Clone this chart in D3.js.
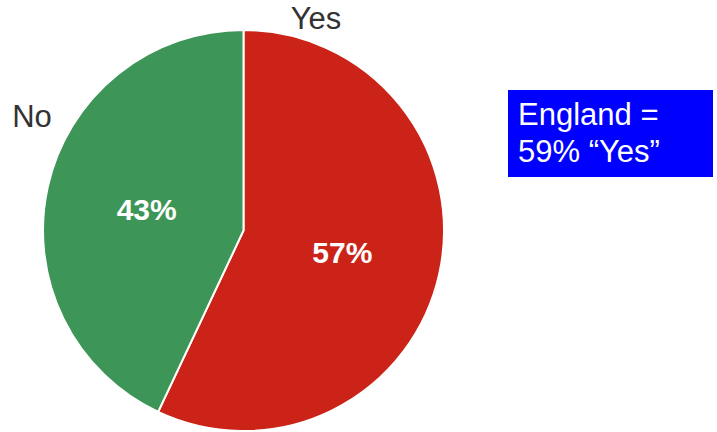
<!DOCTYPE html>
<html><head><meta charset="utf-8">
<script src="https://cdn.jsdelivr.net/npm/d3@7"></script>
<style>html,body{margin:0;padding:0;background:#fff;}svg{display:block;font-family:"Liberation Sans",Arial,sans-serif;}</style>
</head><body>
<svg id="c" width="717" height="432"></svg>
<script>
const categories = ["Yes", "No"];
const values = [57, 43];
const colors = ["#cb2317", "#3d9657"];
const noteLines = ["England =", "59% \u201cYes\u201d"];

const svg = d3.select("#c");
const cx = 243.5, cy = 230.5, r = 200.5;
const pie = d3.pie().sort(null).value(d => d.v);
const data = pie(categories.map((c, i) => ({c, v: values[i], col: colors[i]})));
const arc = d3.arc().innerRadius(0).outerRadius(r);
const labelArc = d3.arc().innerRadius(r * 0.5).outerRadius(r * 0.5);
const g = svg.append("g").attr("transform", `translate(${cx},${cy})`);
g.selectAll("path").data(data).join("path")
  .attr("d", arc).attr("fill", d => d.data.col)
  .attr("stroke", "#fff").attr("stroke-width", 2);
g.selectAll("text.pct").data(data).join("text")
  .attr("class", "pct")
  .attr("x", d => labelArc.centroid(d)[0] + 1)
  .attr("y", d => labelArc.centroid(d)[1] + 11)
  .attr("text-anchor", "middle")
  .attr("fill", "#fff").attr("font-weight", "bold").attr("font-size", 30)
  .text(d => Math.round(d.data.v) + "%");

// outer category labels
const outerPos = {"Yes": [316, 29], "No": [32, 127]};
svg.selectAll("text.cat").data(categories).join("text")
  .attr("class", "cat")
  .attr("x", d => outerPos[d][0]).attr("y", d => outerPos[d][1])
  .attr("text-anchor", "middle").attr("font-size", 31).attr("fill", "#333")
  .text(d => d);

// note box
svg.append("rect").attr("x", 508).attr("y", 90).attr("width", 205).attr("height", 87).attr("fill", "#0000ff");
svg.selectAll("text.note").data(noteLines).join("text")
  .attr("class", "note")
  .attr("x", 518).attr("y", (d, i) => 124.5 + i * 37)
  .attr("fill", "#fff").attr("font-size", 31)
  .text(d => d);
</script>
</body></html>
